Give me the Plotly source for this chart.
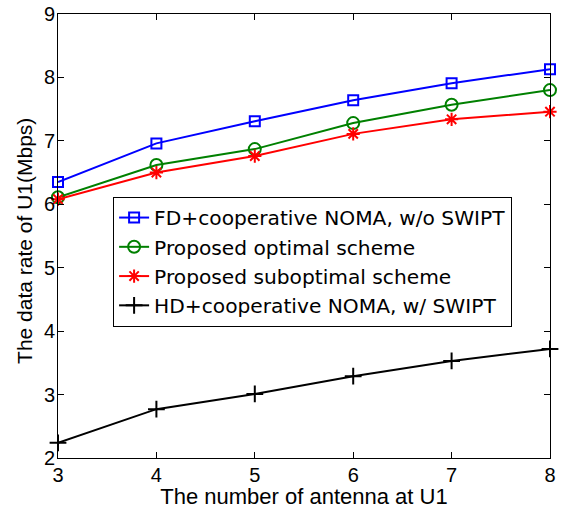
import plotly.graph_objects as go

antennas = [3, 4, 5, 6, 7, 8]
fd_noma = [6.35, 6.96, 7.31, 7.64, 7.91, 8.13]
prop_opt = [6.11, 6.62, 6.87, 7.28, 7.57, 7.80]
prop_subopt = [6.08, 6.50, 6.76, 7.11, 7.34, 7.46]
hd_noma = [2.24, 2.77, 3.01, 3.29, 3.53, 3.72]

names = ["FD+cooperative NOMA, w/o SWIPT", "Proposed optimal scheme",
         "Proposed suboptimal scheme", "HD+cooperative NOMA, w/ SWIPT"]
series = [fd_noma, prop_opt, prop_subopt, hd_noma]
colors = ["#0000FF", "#008000", "#FF0000", "#000000"]
symbols = ["square-open", "circle-open", "asterisk-open", "cross-thin-open"]
sizes = [10, 12, 11, 12]

fig = go.Figure()
for n, s, c, sym, sz in zip(names, series, colors, symbols, sizes):
    fig.add_trace(go.Scatter(
        x=antennas, y=s, name=n, mode="lines+markers", cliponaxis=False,
        line=dict(color=c, width=2),
        marker=dict(symbol=sym, size=sz, color=c, line=dict(color=c, width=2)),
    ))

font = "Liberation Sans, Arial, Helvetica, sans-serif"
axis_common = dict(
    showgrid=False, zeroline=False, showline=True, linecolor="black", linewidth=1,
    mirror="ticks", ticks="inside", ticklen=6, tickcolor="black", automargin=False,
    ticklabeloverflow="allow", ticklabelposition="outside",
    tickfont=dict(size=20, color="black", family=font),
)
fig.update_layout(
    width=562, height=509,
    margin=dict(l=58, r=12, t=14, b=51),
    paper_bgcolor="white", plot_bgcolor="white",
    font=dict(family=font, color="black"),
    showlegend=True,
    legend=dict(x=0.112, y=0.588, xanchor="left", yanchor="top",
                bordercolor="black", borderwidth=1, bgcolor="white",
                font=dict(size=20.2, color="black", family="DejaVu Sans, " + font),
                tracegroupgap=0),
    annotations=[dict(text="The data rate of U1(Mbps)", textangle=-90,
                      xref="paper", yref="paper", x=-0.067, y=0.489,
                      xanchor="center", yanchor="middle", showarrow=False,
                      font=dict(size=21, color="black", family=font))],
)
fig.update_xaxes(range=[3, 8], tickvals=antennas, **axis_common, ticklabelstandoff=-1,
                 title=dict(text="The number of antenna at U1", font=dict(size=22), standoff=12))
fig.update_yaxes(range=[2, 9], tickvals=[2, 3, 4, 5, 6, 7, 8, 9], **axis_common, ticklabelstandoff=-2)
fig.write_html("out.html", config={"displayModeBar": False},
               post_script="document.body.style.margin='0';")
